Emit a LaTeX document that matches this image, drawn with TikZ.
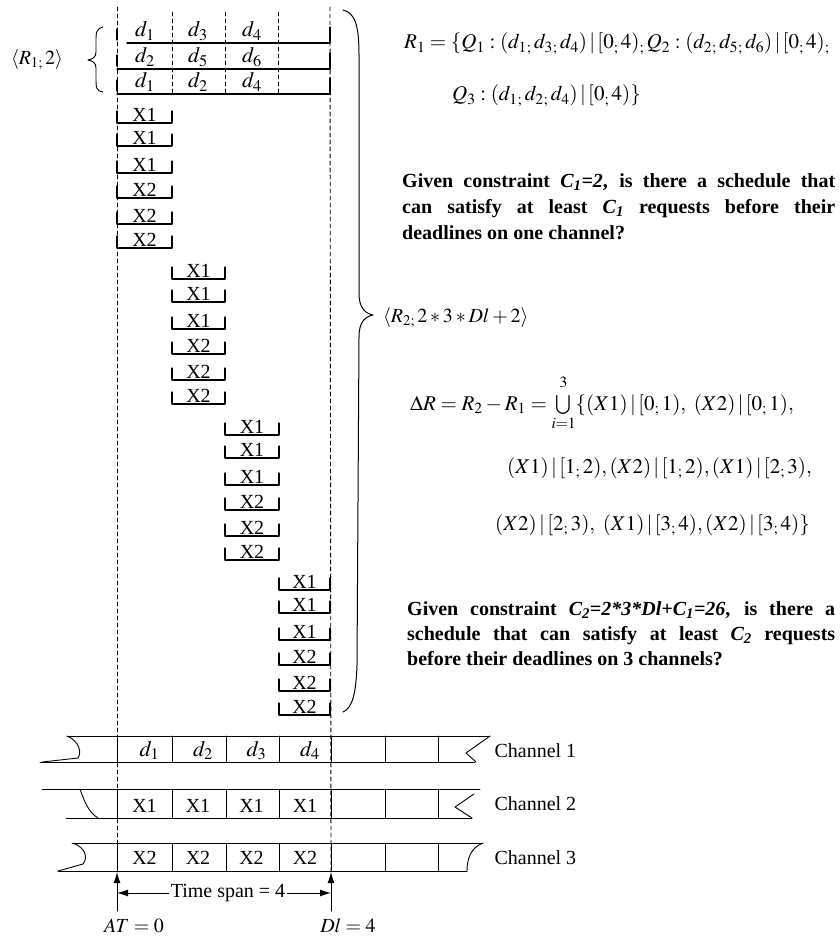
\documentclass[tikz,border=0pt]{standalone}
\usepackage{mathptmx}
\usepackage{fontspec}
\setmainfont{Liberation Serif}
\usetikzlibrary{arrows.meta}

\newcommand{\sepsm}{{}_{;}\,}
\tikzset{SchedSlot/.style={line width=1.3pt},
         SchedGrid/.style={line width=.9pt,dash pattern=on 4pt off 3pt},
         SchedChan/.style={line width=.9pt},
         SchedTag/.style={anchor=base,inner sep=0pt},
         SchedDat/.style={SchedTag,font=\fontsize{22}{26}\selectfont},
         SchedText/.style={anchor=base west,inner sep=0pt},
         SchedMath/.style={SchedText,font=\fontsize{21}{25}\selectfont},
         SchedAsk/.style={SchedText,font=\bfseries\fontsize{20}{24}\selectfont},
         SchedTip/.style={-{Latex[length=11pt,width=7pt]},line width=1pt}}

\begin{document}
\begin{tikzpicture}[x=1pt,y=-1pt,line cap=round,line join=round,
  every node/.style={font=\fontsize{20}{24}\selectfont}]
  \useasboundingbox (0,0) rectangle (839,939);
  % AT and Dl grid lines
  \draw[SchedGrid] (117,7) -- (117,873);
  \draw[SchedGrid] (330,7) -- (331,873);
  \foreach \x in {172,225,278} \draw[SchedGrid] (\x,12) -- (\x,94);
  % requests of R1
  \foreach \yb/\xs/\a/\b/\c [count=\k] in {43/127/1/3/4,69/117/2/5/6,94/117/1/2/4} {
    \draw[SchedSlot] (\xs,\yb) -- (330,\yb);
    \draw[SchedSlot] (117,\yb-14) -- (117,\yb-3);
    \draw[SchedSlot] (330,\yb-16) -- (330,\yb);
    \node[SchedDat] (qa\k) at (145,\yb-6) {$d_{\a}$};
    \node[SchedDat] (qb\k) at (198,\yb-6) {$d_{\b}$};
    \node[SchedDat] (qc\k) at (252,\yb-6) {$d_{\c}$};
  }
  \draw[line width=.9pt] (103,27) .. controls (96,29) and (96,33) .. (96,40)
    -- (96,52) .. controls (96,57) and (93,59) .. (88,60)
    .. controls (93,61) and (96,63) .. (96,68) -- (96,80)
    .. controls (96,87) and (96,91) .. (103,92);
  \node (rone) at (37,60) {$\langle R_{1;}\,2\rangle$};
  % extra requests of R2, one group per time slot
  \foreach \xa/\xb/\yb [count=\g] in {117/172/123,172/225/279,225/279/435,279/330/590} {
    \foreach \o/\lab [count=\k] in {0/X1,23/X1,50/X1,75/X2,101/X2,125/X2} {
      \draw[SchedSlot] (\xa,\yb+\o-12) -- (\xa,\yb+\o) -- (\xb,\yb+\o) -- (\xb,\yb+\o-12);
      \node[SchedTag] (x\g\k) at ({(\xa+\xb)/2},\yb+\o-1.5) {\lab};
    }
  }
  \draw[line width=1pt] (343,10) .. controls (355,13) and (359,25) .. (359,55)
    -- (359,293) .. controls (359,307) and (364,313) .. (373,315)
    .. controls (364,317) and (359,323) .. (359,337) -- (357,665)
    .. controls (356,695) and (352,708) .. (343,712);
  \node[SchedText] (rtwo) at (383,322) {$\langle R_{2;}\,2\ast3\ast Dl+2\rangle$};
  % right hand text
  \node[SchedMath] (rdefa) at (404,49)
    {$R_1=\{Q_1:(d_{1}\sepsm d_{3}\sepsm d_4)\,|\,[0\sepsm 4)\sepsm Q_2:(d_{2}\sepsm d_{5}\sepsm d_6)\,|\,[0\sepsm 4)\sepsm$};
  \node[SchedMath] (rdefb) at (452,101)
    {$Q_3:(d_{1}\sepsm d_{2}\sepsm d_4)\,|\,[0\sepsm 4)\}$};
  \node[SchedAsk] (aska) at (402,187)
    {\makebox[433pt][s]{Given constraint \textit{C\textsubscript{1}=2}, is there a schedule that}};
  \node[SchedAsk] (askb) at (402,213)
    {\makebox[433pt][s]{can satisfy at least \textit{C\textsubscript{1}} requests before their}};
  \node[SchedAsk] (askc) at (402,239)
    {deadlines on one channel?};
  \node[SchedMath] (dra) at (410,410)
    {$\Delta R=R_2-R_1=\bigcup\limits_{i=1}^{\raisebox{4pt}{$\scriptstyle 3$}}\{(X1)\,|\,[0\sepsm1),\ (X2)\,|\,[0\sepsm1),$};
  \node[SchedMath] (drb) at (507,473)
    {$(X1)\,|\,[1\sepsm2),(X2)\,|\,[1\sepsm2),(X1)\,|\,[2\sepsm3),$};
  \node[SchedMath] (drc) at (495,530)
    {$(X2)\,|\,[2\sepsm3),\ (X1)\,|\,[3\sepsm4),(X2)\,|\,[3\sepsm4)\}$};
  \node[SchedAsk] (askd) at (407,615)
    {\makebox[428pt][s]{Given constraint \textit{C\textsubscript{2}=2*3*Dl+C\textsubscript{1}=26}, is there a}};
  \node[SchedAsk] (aske) at (407,640)
    {\makebox[428pt][s]{schedule that can satisfy at least \textit{C\textsubscript{2}} requests}};
  \node[SchedAsk] (askf) at (407,665)
    {before their deadlines on 3 channels?};
  % channels
  \foreach \yt/\ybt in {736/762,789/818,843/871}
    \foreach \x in {117,172,226,279,331,385,438}
      \draw[SchedChan] (\x,\yt) -- (\x,\ybt);
  \draw[SchedChan] (67,736) -- (490,736);
  \draw[SchedChan] (40,762) -- (475,762);
  \draw[SchedChan] (67,736) .. controls (79,741) and (82,752) .. (78,758) -- (42,762);
  \draw[SchedChan] (490,736) -- (466,753) -- (476,762);
  \draw[SchedChan] (42,789) -- (480,789);
  \draw[SchedChan] (66,818) -- (472,818);
  \draw[SchedChan] (80,789) .. controls (84,800) and (88,812) .. (98,818);
  \draw[SchedChan] (474,794) -- (455,807) -- (472,818);
  \draw[SchedChan] (72,843) -- (483,843);
  \draw[SchedChan] (58,871) -- (467,871);
  \draw[SchedChan] (73,843) .. controls (86,848) and (88,858) .. (83,864) -- (58,871);
  \draw[SchedChan] (483,843) .. controls (470,848) and (467,860) .. (467,871);
  \foreach \k in {1,...,4} {
    \node[SchedDat] (ca\k) at (96+53.5*\k,756) {$d_{\k}$};
    \node[SchedTag] (cb\k) at (91+53.5*\k,812) {X1};
    \node[SchedTag] (cc\k) at (91+53.5*\k,864) {X2};
  }
  \node[anchor=west] (cha) at (491,751) {Channel 1};
  \node[anchor=west] (chb) at (491,804) {Channel 2};
  \node[anchor=west] (chc) at (491,858) {Channel 3};
  % time span
  \coordinate (atfoot) at (117,911);
  \coordinate (attop) at (117,872);
  \coordinate (dlfoot) at (331,911);
  \coordinate (dltop) at (331,872);
  \coordinate (atmid) at (117,893);
  \coordinate (dlmid) at (331,893);
  \draw[SchedTip] (atfoot) -- (attop);
  \draw[SchedTip] (dlfoot) -- (dltop);
  \node[inner sep=2pt] (span) at (228,893) {Time span = 4};
  \draw[SchedTip] (span) -- (atmid);
  \draw[SchedTip] (span) -- (dlmid);
  \node (atlab) at (134,926) {$AT=0$};
  \node (dllab) at (348,926) {$Dl=4$};
\end{tikzpicture}
\end{document}
